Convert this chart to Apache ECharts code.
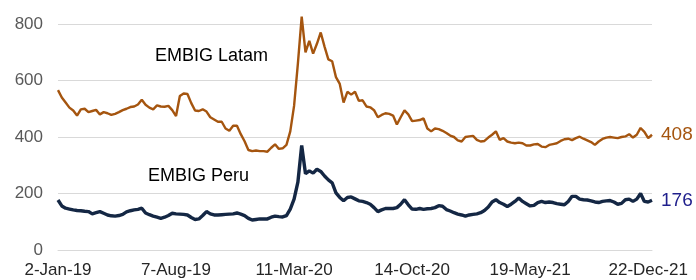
<!DOCTYPE html>
<html>
<head>
<meta charset="utf-8">
<script src="https://cdn.jsdelivr.net/npm/echarts@6/dist/echarts.min.js"></script>
<style>
  html, body { margin: 0; padding: 0; background: #fff; }
  #chart { width: 696px; height: 280px; }
</style>
</head>
<body>
<div id="chart"></div>
<script>
// weekly readings, starting 2-Jan-19
const startDate = '2019-01-02'
const latam = [
  566, 540, 522, 504, 494, 476, 498, 500, 488, 492,
  496, 480, 488, 484, 478, 482, 488, 495, 500, 506,
  508, 515, 532, 514, 504, 498, 512, 508, 507, 510,
  495, 474, 545, 554, 552, 520, 494, 492, 498, 490,
  470, 462, 454, 454, 430, 422, 440, 440, 410, 385,
  354, 350, 352, 350, 350, 348, 362, 374, 358, 360,
  372, 420, 510, 660, 826, 700, 740, 695, 730, 770,
  720, 675, 668, 612, 588, 522, 560, 550, 560, 528,
  530, 508, 505, 495, 470, 478, 484, 482, 476, 444,
  470, 494, 480, 456, 458, 460, 466, 430, 420, 430,
  428, 422, 414, 405, 400, 388, 384, 400, 402, 404,
  390, 384, 386, 398, 408, 420, 390, 396, 384, 380,
  378, 380, 378, 370, 370, 374, 375, 366, 364, 372,
  375, 378, 386, 392, 394, 389, 396, 401, 394, 388,
  382, 372, 384, 393, 398, 400, 398, 396, 400, 402,
  410, 398, 408, 432, 418, 396, 408
]
const peru = [
  177, 156, 148, 145, 142, 140, 139, 137, 136, 128,
  132, 136, 130, 124, 121, 120, 122, 126, 135, 139,
  142, 144, 148, 131, 125, 120, 116, 112, 116, 122,
  130, 128, 127, 126, 124, 115, 108, 110, 122, 136,
  128, 124, 124, 125, 126, 127, 128, 131, 127, 122,
  112, 106, 108, 110, 110, 110, 116, 120, 118, 117,
  122, 145, 180, 240, 370, 270, 280, 272, 286, 278,
  262, 248, 238, 202, 186, 174, 186, 188, 181, 174,
  172, 168, 162, 150, 136, 142, 147, 147, 147, 150,
  162, 178, 160, 145, 144, 147, 144, 146, 147, 150,
  157, 155, 143, 138, 132, 127, 124, 120, 124, 126,
  128, 132, 140, 152, 170, 178, 168, 162, 154, 162,
  172, 184, 172, 164, 156, 158, 168, 172, 168, 170,
  168, 164, 162, 160, 172, 190, 190, 180, 178, 177,
  174, 170, 168, 172, 174, 175, 170, 162, 165, 178,
  180, 172, 180, 200, 172, 170, 176
]
const yTicks = [0, 200, 400, 600, 800]

const months = ['Jan', 'Feb', 'Mar', 'Apr', 'May', 'Jun', 'Jul', 'Aug', 'Sep', 'Oct', 'Nov', 'Dec']
const dates = latam.map((v, i) => {
  const d = new Date(startDate + 'T00:00:00Z')
  d.setUTCDate(d.getUTCDate() + 7 * i)
  return d.getUTCDate() + '-' + months[d.getUTCMonth()] + '-' + String(d.getUTCFullYear()).slice(2)
})

const chart = echarts.init(document.getElementById('chart'))
const font = 'Liberation Sans, Arial, sans-serif'

chart.setOption({
  animation: false,
  backgroundColor: '#fff',
  grid: { left: 58, right: 44, top: 24, bottom: 30 },
  xAxis: {
    type: 'category',
    data: dates,
    boundaryGap: false,
    axisLine: { lineStyle: { color: '#d9d9d9' } },
    axisTick: { show: false },
    axisLabel: {
      // every 31st week
      interval: (idx) => idx % 31 === 0,
      color: '#262626',
      fontSize: 17,
      fontFamily: font,
      margin: 12,
      hideOverlap: false
    },
    splitLine: { show: false }
  },
  yAxis: {
    type: 'value',
    min: yTicks[0],
    max: yTicks[yTicks.length - 1],
    interval: 200,
    axisLine: { show: false },
    axisTick: { show: false },
    axisLabel: { color: '#595959', fontSize: 17, fontFamily: font, margin: 15 },
    splitLine: { lineStyle: { color: '#d9d9d9', width: 1 } }
  },
  graphic: [
    { type: 'text', left: 155, top: 47, style: { text: 'EMBIG Latam', fill: '#000', font: '18px ' + font } },
    { type: 'text', left: 148, top: 167, style: { text: 'EMBIG Peru', fill: '#000', font: '18px ' + font } }
  ],
  series: [
    {
      name: 'EMBIG Latam',
      type: 'line',
      data: latam,
      showSymbol: false,
      clip: false,
      lineStyle: { color: '#a5550f', width: 2.4 },
      itemStyle: { color: '#a5550f' },
      endLabel: {
        show: true,
        distance: 9,
        color: '#a5550f',
        fontSize: 19,
        fontFamily: font,
        formatter: p => String(p.value)
      }
    },
    {
      name: 'EMBIG Peru',
      type: 'line',
      data: peru,
      showSymbol: false,
      clip: false,
      lineStyle: { color: '#142744', width: 3.4 },
      itemStyle: { color: '#142744' },
      endLabel: {
        show: true,
        distance: 9,
        color: '#1f1f8c',
        fontSize: 19,
        fontFamily: font,
        formatter: p => String(p.value)
      }
    }
  ]
})
</script>
</body>
</html>
